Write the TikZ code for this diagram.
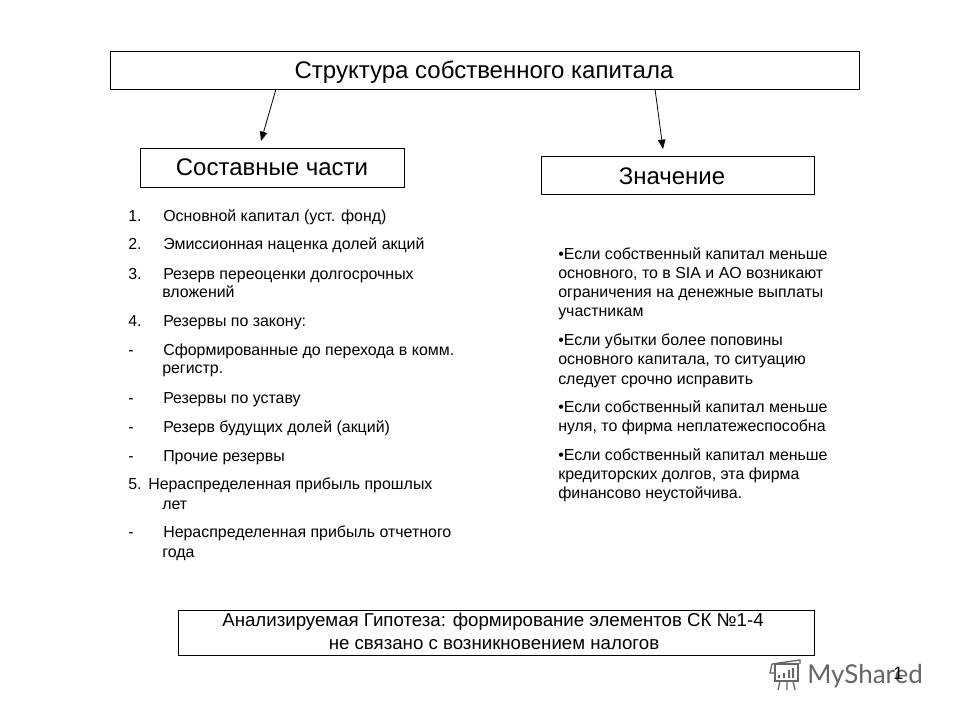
\documentclass[tikz,border=0pt]{standalone}
\usepackage{fontspec}
\setmainfont{Liberation Sans}
\newfontfamily\wmfont{Lato}
\usetikzlibrary{arrows.meta}
\tikzset{
  x=0.75pt,y=-0.75pt,
  box/.style={draw=black,line width=0.6pt,fill=white,inner sep=0pt},
  headtext/.style={yshift=-0.75pt,font=\fontsize{18}{21}\selectfont},
  hyptext/.style={yshift=-0.4pt,font=\fontsize{14}{16}\selectfont},
  itemtext/.style={yshift=-0.6pt,anchor=base west,inner sep=0pt,font=\fontsize{11.95}{14}\selectfont},
  conn/.style={draw=black,line width=0.6pt,-{Triangle[length=7pt,width=5.5pt]}},
  wm/.style={draw=black!60,line width=1pt}
}
\begin{document}
\begin{tikzpicture}
\useasboundingbox (0,0) rectangle (960,720);
% boxes
\draw[box] (110,51) rectangle (859,89);
\node[headtext,inner sep=0pt,anchor=base] (title) at (484,78) {Структура собственного капитала};
\draw[box] (140,148) rectangle (404,187);
\node[headtext,inner sep=0pt,anchor=base] (parts) at (272,175) {Составные части};
\draw[box] (541,156) rectangle (814,194);
\node[headtext,inner sep=0pt,anchor=base] (meaning) at (672,184) {Значение};
\draw[box] (178,610) rectangle (814,655);
\node[hyptext,inner sep=0pt,anchor=base] (hyp1) at (493,626) {Анализируемая Гипотеза: формирование элементов СК №1-4};
\node[hyptext,inner sep=0pt,anchor=base] (hyp2) at (494,649) {не связано с возникновением налогов};
% connectors
\coordinate (a1) at (276,89);
\coordinate (a2) at (261,141);
\coordinate (b1) at (655,89);
\coordinate (b2) at (663,149);
\draw[conn] (a1) -- (a2);
\draw[conn] (b1) -- (b2);
% left list
\node[itemtext] (n1) at (128,221) {1.};
\node[itemtext] (l1) at (163,221) {Основной капитал (уст. фонд)};
\node[itemtext] (n2) at (128,249) {2.};
\node[itemtext] (l2) at (163,249) {Эмиссионная наценка долей акций};
\node[itemtext] (n3) at (128,279) {3.};
\node[itemtext] (l3) at (163,279) {Резерв переоценки долгосрочных};
\node[itemtext] (l3b) at (162,297) {вложений};
\node[itemtext] (n4) at (128,326) {4.};
\node[itemtext] (l4) at (163,326) {Резервы по закону:};
\node[itemtext] (d1) at (128,355) {-};
\node[itemtext] (l5) at (163,355) {Сформированные до перехода в комм.};
\node[itemtext] (l5b) at (162,373) {регистр.};
\node[itemtext] (d2) at (128,403) {-};
\node[itemtext] (l6) at (163,403) {Резервы по уставу};
\node[itemtext] (d3) at (128,432) {-};
\node[itemtext] (l7) at (163,432) {Резерв будущих долей (акций)};
\node[itemtext] (d4) at (128,461) {-};
\node[itemtext] (l8) at (163,461) {Прочие резервы};
\node[itemtext] (l9n) at (128,489) {5.};
\node[itemtext] (l9) at (148,489) {Нераспределенная прибыль прошлых};
\node[itemtext] (l9b) at (162,509) {лет};
\node[itemtext] (d5) at (128,537) {-};
\node[itemtext] (l10) at (163,537) {Нераспределенная прибыль отчетного};
\node[itemtext] (l10b) at (162,557) {года};
% right list
\node[itemtext] (r1) at (558,259) {•Если собственный капитал меньше};
\node[itemtext] (r1b) at (558,278) {основного, то в SIA и AO возникают};
\node[itemtext] (r1c) at (558,297) {ограничения на денежные выплаты};
\node[itemtext] (r1d) at (558,316) {участникам};
\node[itemtext] (r2) at (558,345) {•Если убытки более поповины};
\node[itemtext] (r2b) at (558,364) {основного капитала, то ситуацию};
\node[itemtext] (r2c) at (558,384) {следует срочно исправить};
\node[itemtext] (r3) at (558,412) {•Если собственный капитал меньше};
\node[itemtext] (r3b) at (558,431) {нуля, то фирма неплатежеспособна};
\node[itemtext] (r4) at (558,460) {•Если собственный капитал меньше};
\node[itemtext] (r4b) at (558,479) {кредиторских долгов, эта фирма};
\node[itemtext] (r4c) at (558,498) {финансово неустойчива.};
% watermark
\draw[wm] (772,664) -- (800,660) -- (800,664) (772,664) -- (770,673) -- (775,673);
\draw[wm] (775,664) rectangle (798,681);
\fill[black!60] (778,675) rectangle (780,678) (783,673) rectangle (785,678) (788,670) rectangle (790,678) (792,668) rectangle (794,678);
\draw[wm] (780,681) -- (778,690) (787,681) -- (787,690) (793,681) -- (795,690);
\node[anchor=base west,inner sep=0pt,text=black!60,font=\wmfont\fontsize{19.5}{24}\selectfont] (wmark) at (807,683) {MyShared};
\node[itemtext] (pagenum) at (893,679) {\fontsize{13.5}{15}\selectfont 1};
\end{tikzpicture}
\end{document}
